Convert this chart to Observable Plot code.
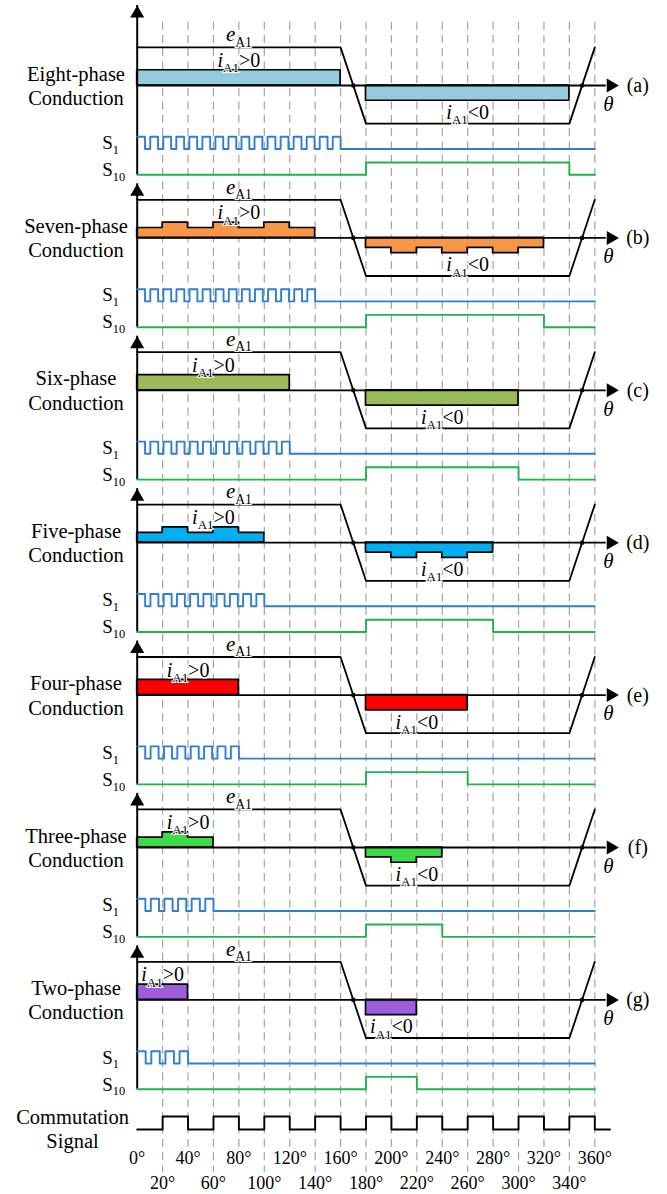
<!DOCTYPE html>
<html><head><meta charset="utf-8">
<script src="https://cdn.jsdelivr.net/npm/d3@7"></script>
<script src="https://cdn.jsdelivr.net/npm/@observablehq/plot@0.6"></script>
<style>html,body{margin:0;padding:0;background:#fff;}</style>
</head><body><div id="chart"></div>
<script>
// ---------------- data ----------------
const panelTags = ["(a)","(b)","(c)","(d)","(e)","(f)","(g)"];
const phaseNames = ["Eight-phase","Seven-phase","Six-phase","Five-phase","Four-phase","Three-phase","Two-phase"];
const barColors = ["#93CDDD","#F79646","#9BBB59","#00B0F0","#FF0000","#3EDB48","#9E5EDC"];
// phase current magnitude per 20° segment (positive half starts at 0°, negative half at 180°)
const currentSegments = [
  [0.4,0.4,0.4,0.4,0.4,0.4,0.4,0.4],
  [0.26,0.4,0.26,0.4,0.26,0.4,0.26],
  [0.4,0.4,0.4,0.4,0.4,0.4],
  [0.26,0.4,0.26,0.4,0.26],
  [0.4,0.4,0.4,0.4],
  [0.26,0.4,0.26],
  [0.4,0.4]
];
const s1End = [160,140,120,100,80,60,40];
const s1Pulses = [16,14,12,10,8,6,4];
const s10End = [340,320,300,280,260,240,220];
const emfAngles = [0,160,180,340,360];
const emfValues = [1,1,-1,-1,1];
const emfZeroAngles = [170,350];
const iPosLabelAngle = [80,80,60,60,40,40,20];
const iNegLabelAngle = [260,260,240,240,220,220,200];
const eLabelAngle = 80;
const commutationHigh = [[20,40],[60,80],[100,120],[140,160],[180,200],[220,240],[260,280],[300,320],[340,360]];
const tickRow1 = [0,40,80,120,160,200,240,280,320,360];
const tickRow2 = [20,60,100,140,180,220,260,300,340];
const gridAngles = [20,40,60,80,100,120,140,160,180,200,220,240,260,280,300,320,340,360];

// ---------------- layout helpers ----------------
const axisY = k => -4 * k;
const S1HI = -1.346, S1LO = -1.667, S10HI = -2.02, S10LO = -2.344;
const COMHI = -3.06, COMLO = -3.40;
const FONT = '"Liberation Serif","Times New Roman",serif';
const halo = {stroke: "white", strokeWidth: 3, fill: "black"};

const marks = [];
// dashed grid
marks.push(Plot.ruleX(gridAngles, {x: d => d, y1: 1.661, y2: d => d % 40 === 0 ? -27.87 : -28.53,
  stroke: "#a3a3a3", strokeWidth: 1.2, strokeDasharray: "8,5.3"}));

phaseNames.forEach((name, k) => {
  const a0 = axisY(k);
  // bars
  const segs = currentSegments[k];
  const pos = segs.map((m, i) => ({x: 20 * i, y1: a0, y2: a0 + m}));
  pos.push({x: 20 * segs.length, y1: a0, y2: a0 + segs[segs.length - 1]});
  const neg = segs.map((m, i) => ({x: 180 + 20 * i, y1: a0, y2: a0 - m}));
  neg.push({x: 180 + 20 * segs.length, y1: a0, y2: a0 - segs[segs.length - 1]});
  for (const data of [pos, neg]) {
    marks.push(Plot.areaY(data, {x: "x", y1: "y1", y2: "y2", curve: "step-after",
      fill: barColors[k], stroke: "black", strokeWidth: 1.7}));
  }
  // theta axis
  marks.push(Plot.ruleY([a0], {x1: 0, x2: 369, stroke: "black", strokeWidth: 1.8}));
  marks.push(Plot.dot([a0], {x: 360, y: d => d, dx: 16, symbol: "triangle", r: 5.2, rotate: 90, fill: "black", stroke: "none"}));
  // vertical axis
  const top = k === 0 ? 2.10 : 1.42;
  marks.push(Plot.ruleX([0], {x: d => d, y1: a0 + top, y2: a0 + S10LO, stroke: "black", strokeWidth: 2}));
  marks.push(Plot.dot([a0 + top], {x: 0, y: d => d, dy: 8, symbol: "triangle", r: 5.2, fill: "black", stroke: "none"}));
  // back-emf
  marks.push(Plot.line(emfAngles.map((t, i) => ({x: t, y: a0 + emfValues[i]})), {x: "x", y: "y", stroke: "black", strokeWidth: 1.8}));
  marks.push(Plot.dot(emfZeroAngles, {x: d => d, y: a0, r: 2.3, fill: "black", stroke: "none"}));
  // S1 PWM
  const E = s1End[k], N = s1Pulses[k];
  const p = E / (N - 0.4), w = 0.6 * p;
  const s1 = [{x: 0, y: a0 + S1HI}];
  for (let j = 0; j < N; j++) {
    const fall = j === N - 1 ? E : j * p + w;
    s1.push({x: fall, y: a0 + S1HI}, {x: fall, y: a0 + S1LO});
    if (j < N - 1) s1.push({x: (j + 1) * p, y: a0 + S1LO}, {x: (j + 1) * p, y: a0 + S1HI});
  }
  s1.push({x: 360, y: a0 + S1LO});
  marks.push(Plot.line(s1, {x: "x", y: "y", stroke: "#2F7ED0", strokeWidth: 1.9}));
  // S10
  const s10 = [[0, S10LO], [180, S10LO], [180, S10HI], [s10End[k], S10HI], [s10End[k], S10LO], [360, S10LO]]
    .map(([t, v]) => ({x: t, y: a0 + v}));
  marks.push(Plot.line(s10, {x: "x", y: "y", stroke: "#22B24C", strokeWidth: 1.9}));
  // texts
  marks.push(Plot.text([name], {x: 0, y: a0, dx: -61.2, dy: -11.5, text: d => d, fontSize: 20.5, textAnchor: "middle"}));
  marks.push(Plot.text(["Conduction"], {x: 0, y: a0, dx: -61.2, dy: 13, text: d => d, fontSize: 20.5, textAnchor: "middle"}));
  marks.push(Plot.text(["S_{1}"], {x: 0, y: a0, dx: -35, dy: 57.5, text: d => d, fontSize: 19, textAnchor: "start"}));
  marks.push(Plot.text(["S_{10}"], {x: 0, y: a0, dx: -35, dy: 84.5, text: d => d, fontSize: 19, textAnchor: "start"}));
  marks.push(Plot.text(["*e*_{A1}"], {x: eLabelAngle, y: a0, dy: -51, text: d => d, fontSize: 21, textAnchor: "middle", ...halo}));
  marks.push(Plot.text(["*i*_{A1}>0"], {x: iPosLabelAngle[k], y: a0, dy: -25, text: d => d, fontSize: 20, textAnchor: "middle", ...halo}));
  marks.push(Plot.text(["*i*_{A1}<0"], {x: iNegLabelAngle[k], y: a0, dy: 27, text: d => d, fontSize: 20, textAnchor: "middle", ...halo}));
  marks.push(Plot.text(["θ"], {x: 360, y: a0, dx: 13.5, dy: 18.5, text: d => d, fontSize: 21, fontStyle: "italic", textAnchor: "middle", ...halo}));
  marks.push(Plot.text([panelTags[k]], {x: 360, y: a0, dx: 43, text: d => d, fontSize: 20, textAnchor: "middle"}));
});

// commutation signal
const g0 = axisY(6);
const com = [{x: 0, y: g0 + COMLO}];
for (const [t1, t2] of commutationHigh) {
  com.push({x: t1, y: g0 + COMLO}, {x: t1, y: g0 + COMHI}, {x: t2, y: g0 + COMHI}, {x: t2, y: g0 + COMLO});
}
com.push({x: 372, y: g0 + COMLO});
marks.push(Plot.line(com, {x: "x", y: "y", stroke: "black", strokeWidth: 1.9}));
marks.push(Plot.text(["Commutation"], {x: 0, y: g0, dx: -64.7, dy: 117.4, text: d => d, fontSize: 20.5, textAnchor: "middle"}));
marks.push(Plot.text(["Signal"], {x: 0, y: g0, dx: -64.7, dy: 142, text: d => d, fontSize: 20.5, textAnchor: "middle"}));
marks.push(Plot.text(tickRow1, {x: d => d, y: g0, dy: 158.4, text: d => d + "°", fontSize: 18, textAnchor: "middle", ...halo}));
marks.push(Plot.text(tickRow2, {x: d => d, y: g0, dy: 183, text: d => d + "°", fontSize: 18, textAnchor: "middle", ...halo}));

const svg = Plot.plot({
  width: 667, height: 1194, margin: 0,
  x: {domain: [0, 360], range: [136.7, 594.3], axis: null},
  y: {domain: [-29.107, 2.231], range: [1194, 0], axis: null},
  style: {fontFamily: FONT, background: "white", overflow: "visible"},
  marks
});
document.getElementById("chart").appendChild(svg);

// rich text: *italic*, _{subscript}
const NS = "http://www.w3.org/2000/svg";
svg.querySelectorAll("text").forEach(t => {
  t.setAttribute("paint-order", "stroke");
  const s = t.textContent;
  if (!/[*_]/.test(s)) return;
  const fs = parseFloat(getComputedStyle(t).fontSize) || 20;
  t.textContent = "";
  let shifted = false;
  for (const m of s.matchAll(/\*([^*]+)\*|_\{([^}]+)\}|([^*_]+)/g)) {
    const ts = document.createElementNS(NS, "tspan");
    if (m[1] !== undefined) {
      ts.textContent = m[1]; ts.setAttribute("font-style", "italic");
      if (shifted) { ts.setAttribute("dy", -0.26 * fs); shifted = false; }
    } else if (m[2] !== undefined) {
      ts.textContent = m[2]; ts.setAttribute("font-size", (0.65 * fs) + "px");
      ts.setAttribute("dy", 0.26 * fs); ts.setAttribute("stroke-width", 2); shifted = true;
    } else {
      ts.textContent = m[3];
      if (shifted) { ts.setAttribute("dy", -0.26 * fs); shifted = false; }
    }
    t.appendChild(ts);
  }
});
</script>
</body></html>
